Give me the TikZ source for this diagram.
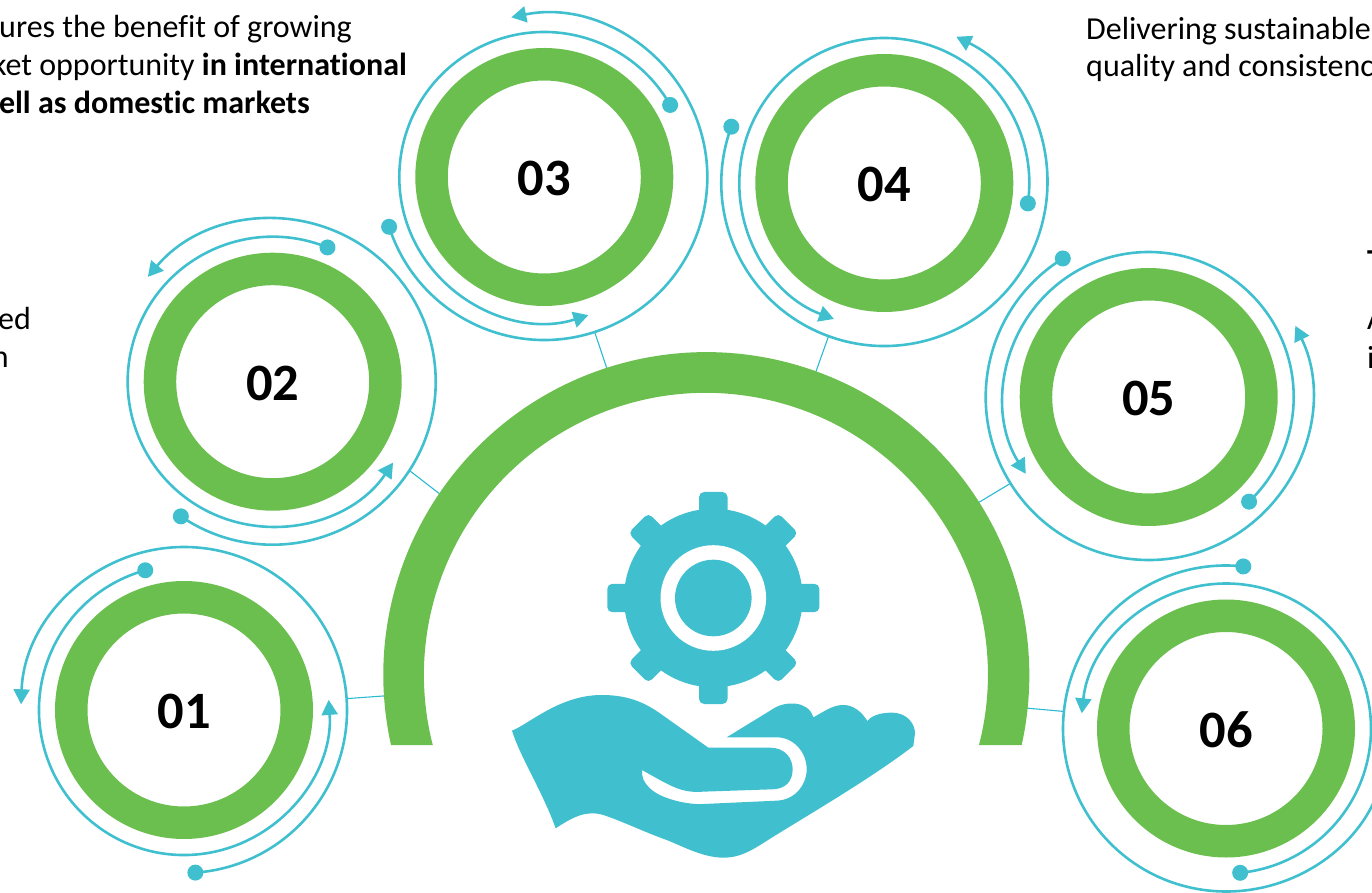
\documentclass[tikz,border=0pt]{standalone}
\usepackage{fontspec}
\setmainfont{Carlito}[Ligatures=NoCommon]
\usetikzlibrary{arrows.meta,calc}
\definecolor{ringgreen}{HTML}{6BBF4F}
\definecolor{tealc}{HTML}{40C0CF}
\definecolor{linkc}{HTML}{2CBAD2}
\newcommand\ringarc[4]{%
  \path (#1) ++(#2:#4) coordinate (tmpS);
  \draw[arcline] (tmpS) arc[start angle=#2,end angle=#3,radius=#4pt];
  \node[dotmark] at (tmpS) {};
}
\tikzset{
  ringnode/.style={circle,draw=ringgreen,line width=32.5pt,minimum size=225.5pt,inner sep=0pt,outer sep=0pt},
  numlabel/.style={inner sep=0pt,font=\fontsize{52.5}{60}\selectfont\bfseries,text=black},
  ringouter/.style={circle,minimum size=326pt,inner sep=0pt,outer sep=0pt},
  arcline/.style={draw=tealc,line width=2.6pt,-{Triangle[length=15pt,width=16pt]}},
  dotmark/.style={circle,fill=tealc,minimum size=16pt,inner sep=0pt},
  linkline/.style={draw=linkc,line width=1.1pt},
  para/.style={font=\fontsize{32}{38}\selectfont,text=black,inner sep=0pt},
  gearfill/.style={fill=tealc},
}
\begin{document}
\begin{tikzpicture}[x=1pt,y=1pt]
\useasboundingbox (0,0) rectangle (1372,892);
% centres (y = 892 - pixel y)
\foreach \n/\cx/\cy/\t in {1/184/182/01,2/272.7/510.3/02,3/544.3/715/03,4/884.3/709/04,5/1148.7/495/05,6/1226/163.5/06}{
  \node[ringouter] (o\n) at (\cx,\cy) {};
  \node[ringnode] (r\n) at (\cx,\cy) {};
  \node[numlabel] (n\n) at (\cx,\cy-1.5) {\t};
}
% arch anchor points
\coordinate (a1) at (390,196.5);
\coordinate (a2) at (445,394);
\coordinate (a3) at (608,520);
\coordinate (a4) at (814,515);
\coordinate (a5) at (972,385.5);
\coordinate (a6) at (1020,184.5);
\draw[linkline] (o1.4) -- (a1);
\draw[linkline] (o2.-33.9) -- (a2);
\draw[linkline] (o3.-72.1) -- (a3);
\draw[linkline] (o4.250) -- (a4);
\draw[linkline] (o5.212) -- (a5);
\draw[linkline] (o6.174) -- (a6);
% arch
\fill[ringgreen] (391,147) arc[start angle=192.5,end angle=-12.5,radius=323pt]
  -- (979,147) arc[start angle=-14.4,end angle=194.4,radius=282pt] -- cycle;
% spiral arcs
\ringarc{o1}{-86}{178}{163}
\ringarc{o1}{105.5}{364}{145}
\ringarc{o2}{-124.3}{140}{163}
\ringarc{o2}{67.8}{326.1}{145}
\ringarc{o3}{197.8}{461.7}{163}
\ringarc{o3}{29.8}{287.7}{145}
\ringarc{o4}{159.8}{423.8}{163}
\ringarc{o4}{-8.1}{249.7}{145}
\ringarc{o5}{121.8}{385.9}{163}
\ringarc{o5}{-46.2}{212}{145}
\ringarc{o6}{83.9}{348}{163}
\ringarc{o6}{-84.4}{174}{145}
% gear
\begin{scope}[shift={(713.3,294)}]
  \foreach \a in {0,45,...,315}{
    \fill[gearfill,rounded corners=5pt,rotate=\a] (-14.2,70) rectangle (14.2,106);
  }
  \fill[gearfill] (0,0) circle[radius=89.3];
  \fill[white] (0,0) circle[radius=52.8];
  \fill[gearfill] (0,0) circle[radius=38.3];
\end{scope}
% hand
\begin{scope}[shift={(490,412)},x=0.33333pt,y=-0.33333pt]
\fill[tealc] (66,752) .. controls (120,730) and (210,645) .. (335,645)
.. controls (410,645) and (460,665) .. (510,700)
-- (655,803) -- (840,803)
.. controls (885,803) and (908,835) .. (908,868)
.. controls (908,905) and (885,928) .. (845,928)
-- (640,935)
.. controls (575,940) and (545,920) .. (456,870)
.. controls (456,895) and (460,905) .. (480,925)
.. controls (510,955) and (590,975) .. (640,972)
-- (860,962)
.. controls (915,960) and (950,915) .. (950,868)
.. controls (950,815) and (910,772) .. (860,772)
-- (710,772) -- (855,683)
.. controls (885,665) and (955,660) .. (970,712)
.. controls (1010,690) and (1030,675) .. (1060,675)
.. controls (1090,675) and (1115,695) .. (1132,723)
.. controls (1150,700) and (1190,698) .. (1205,698)
.. controls (1255,698) and (1275,735) .. (1275,760)
-- (1270,798)
.. controls (1150,890) and (980,990) .. (850,1070)
.. controls (790,1108) and (755,1133) .. (700,1133)
.. controls (640,1133) and (580,1100) .. (530,1080)
.. controls (460,1055) and (400,1025) .. (340,1005)
.. controls (290,990) and (250,1010) .. (197,1045)
.. controls (160,940) and (90,830) .. (66,752) -- cycle;
\end{scope}
% texts
\node[para,anchor=base east] (t1) at (352,854) {ures the benefit of growing};
\node[para,anchor=base east] (t2) at (407,816) {ket opportunity \textbf{in international}};
\node[para,anchor=base east] (t3) at (310,778) {\textbf{ell as domestic markets}};
\node[para,anchor=base east] (t4) at (31,562) {ed};
\node[para,anchor=base east] (t5) at (9,524) {n};
\node[para,anchor=base west] (t6) at (1086,852) {Delivering sustainable};
\node[para,anchor=base west] (t7) at (1086,815) {quality and consistenc};
\node[para,anchor=base west] (t8) at (1367,620) {\textbf{T}};
\node[para,anchor=base west] (t9) at (1367,562) {A};
\node[para,anchor=base west] (t10) at (1367,523) {i};
\end{tikzpicture}
\end{document}
